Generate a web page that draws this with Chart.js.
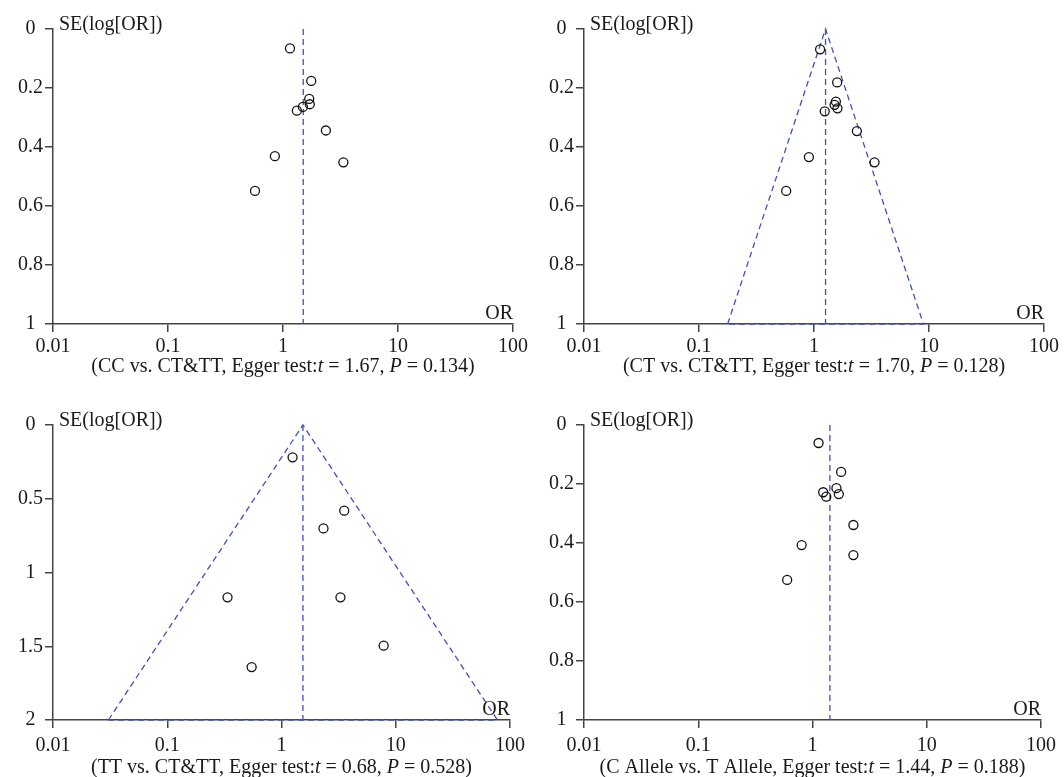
<!DOCTYPE html>
<html>
<head>
<meta charset="utf-8">
<title>Funnel plots</title>
<script src="https://cdn.jsdelivr.net/npm/chart.js@4.4.1/dist/chart.umd.min.js"></script>
<style>
  html, body { margin: 0; padding: 0; background: #fff; width: 1064px; height: 777px; overflow: hidden; }
  canvas { position: absolute; }
  #c1 { left: 0; top: 0; }
  #c2 { left: 531px; top: 0; }
  #c3 { left: 0; top: 396px; }
  #c4 { left: 531px; top: 396px; }
</style>
</head>
<body>
<canvas id="c1" width="531" height="381"></canvas>
<canvas id="c2" width="531" height="381"></canvas>
<canvas id="c3" width="531" height="381"></canvas>
<canvas id="c4" width="531" height="381"></canvas>
<script>
// Shared x axis (OR, log scale)
const xTicks = [0.01, 0.1, 1, 10, 100];
const xTickLabels = ['0.01', '0.1', '1', '10', '100'];

// CC vs. CT&TT
const orCC = [1.15, 1.76, 1.69, 1.71, 1.49, 1.32, 2.36, 0.85, 3.35, 0.571];
const seCC = [0.066, 0.176, 0.237, 0.255, 0.264, 0.277, 0.344, 0.431, 0.452, 0.549];
const pooledCC = 1.50;

// CT vs. CT&TT
const orCT = [1.13, 1.59, 1.55, 1.51, 1.60, 1.24, 2.36, 0.903, 3.36, 0.573];
const seCT = [0.069, 0.181, 0.246, 0.257, 0.269, 0.279, 0.346, 0.434, 0.452, 0.549];
const pooledCT = 1.26;

// TT vs. CT&TT
const orTT = [1.25, 3.54, 2.33, 0.337, 3.28, 7.84, 0.548];
const seTT = [0.219, 0.581, 0.701, 1.168, 1.168, 1.496, 1.641];
const pooledTT = 1.54;

// C Allele vs. T Allele
const orAllele = [1.13, 1.78, 1.62, 1.24, 1.70, 1.32, 2.28, 0.804, 2.28, 0.600];
const seAllele = [0.061, 0.159, 0.214, 0.228, 0.234, 0.243, 0.339, 0.407, 0.441, 0.525];
const pooledAllele = 1.42;

// Egger test results
const eggerNames = ['CC vs. CT&TT', 'CT vs. CT&TT', 'TT vs. CT&TT', 'C Allele vs. T Allele'];
const eggerT = ['1.67', '1.70', '0.68', '1.44'];
const eggerP = ['0.134', '0.128', '0.528', '0.188'];

const FONT = '"Liberation Serif", "DejaVu Serif", serif';
const textColor = '#1a1a1a';
const axisColor = '#444';
const refColor = '#4151b8';

function captionParts(i) {
    return [
        ['(' + eggerNames[i] + ', Egger test:', false],
        ['t', true],
        [' = ' + eggerT[i] + ', ', false],
        ['P', true],
        [' = ' + eggerP[i] + ')', false]
    ];
}

// draws "SE(log[OR])", "OR" and the caption with italic t and P
const funnelText = {
    id: 'funnelText',
    afterDraw(chart, args, opts) {
        const { ctx, chartArea: a } = chart;
        ctx.save();
        ctx.fillStyle = textColor;
        ctx.textBaseline = 'alphabetic';
        ctx.font = '20px ' + FONT;
        ctx.textAlign = 'left';
        ctx.fillText('SE(log[OR])', a.left + 6, a.top + 1);
        ctx.textAlign = 'right';
        ctx.fillText('OR', a.right, a.bottom - 5);

        const parts = opts.caption || [];
        let total = 0;
        parts.forEach(p => {
            ctx.font = (p[1] ? 'italic ' : '') + '20px ' + FONT;
            total += ctx.measureText(p[0]).width;
        });
        let x = (a.left + a.right) / 2 - total / 2;
        ctx.textAlign = 'left';
        parts.forEach(p => {
            ctx.font = (p[1] ? 'italic ' : '') + '20px ' + FONT;
            ctx.fillText(p[0], x, a.bottom + opts.captionOffset);
            x += ctx.measureText(p[0]).width;
        });
        ctx.restore();
    }
};

function funnelChart(id, orVals, seVals, pooled, seMax, seStep, showFunnel, idx, tickPad, captionOffset) {
    const datasets = [
        {
            data: orVals.map((v, i) => ({ x: v, y: seVals[i] })),
            pointRadius: 4.5,
            pointStyle: 'circle',
            borderColor: '#111',
            backgroundColor: 'rgba(0,0,0,0)',
            borderWidth: 1.3,
            showLine: false
        },
        {
            data: [{ x: pooled, y: 0 }, { x: pooled, y: seMax }],
            showLine: true,
            borderColor: refColor,
            borderWidth: 1.3,
            borderDash: [6, 4],
            pointRadius: 0,
            clip: false
        }
    ];
    if (showFunnel) {
        const lo = pooled * Math.exp(-1.96 * seMax);
        const hi = pooled * Math.exp(1.96 * seMax);
        datasets.push({
            data: [{ x: lo, y: seMax }, { x: pooled, y: 0 }, { x: hi, y: seMax }, { x: lo, y: seMax }],
            showLine: true,
            borderColor: refColor,
            borderWidth: 1.3,
            borderDash: [6, 4],
            pointRadius: 0,
            tension: 0,
            clip: false
        });
    }

    new Chart(document.getElementById(id), {
        type: 'scatter',
        data: { datasets: datasets },
        plugins: [funnelText],
        options: {
            responsive: false,
            animation: false,
            layout: { padding: { left: 0, right: 16, top: 29, bottom: 17 } },
            plugins: {
                legend: { display: false },
                tooltip: { enabled: false },
                funnelText: { caption: captionParts(idx), captionOffset: captionOffset }
            },
            scales: {
                x: {
                    type: 'logarithmic',
                    min: 0.01,
                    max: 100,
                    afterBuildTicks: s => { s.ticks = xTicks.map(v => ({ value: v })); },
                    afterFit: s => { s.height = 40; },
                    ticks: {
                        autoSkip: false,
                        maxRotation: 0,
                        padding: tickPad,
                        color: textColor,
                        font: { family: FONT, size: 20 },
                        callback: (v, i) => xTickLabels[i]
                    },
                    grid: { drawOnChartArea: false, drawTicks: true, tickLength: 8, color: axisColor, lineWidth: 1.5 },
                    border: { display: true, color: axisColor, width: 1.5 }
                },
                y: {
                    type: 'linear',
                    reverse: true,
                    min: 0,
                    max: seMax,
                    afterFit: s => { s.width = 53; },
                    ticks: {
                        stepSize: seStep,
                        crossAlign: 'center',
                        padding: 2,
                        color: textColor,
                        font: { family: FONT, size: 20 },
                        callback: v => String(Number(v.toFixed(2)))
                    },
                    grid: { drawOnChartArea: false, drawTicks: true, tickLength: 8, color: axisColor, lineWidth: 1.5 },
                    border: { display: true, color: axisColor, width: 1.5 }
                }
            }
        }
    });
}

funnelChart('c1', orCC, seCC, pooledCC, 1, 0.2, false, 0, 3, 48);
funnelChart('c2', orCT, seCT, pooledCT, 1, 0.2, true, 1, 3, 48);
funnelChart('c3', orTT, seTT, pooledTT, 2, 0.5, true, 2, 6, 53);
funnelChart('c4', orAllele, seAllele, pooledAllele, 1, 0.2, false, 3, 6, 53);
</script>
</body>
</html>
